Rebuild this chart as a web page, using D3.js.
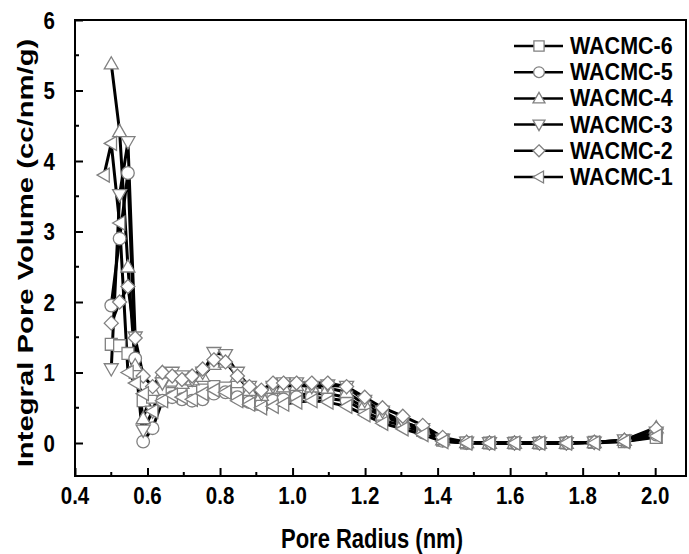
<!DOCTYPE html>
<html>
<head>
<meta charset="utf-8">
<script src="https://cdn.jsdelivr.net/npm/d3@7"></script>
<style>
  html, body { margin: 0; padding: 0; background: #fff; }
  svg { display: block; font-family: "Liberation Sans", Arial, sans-serif; }
</style>
</head>
<body>
<svg id="chart" width="689" height="554"></svg>
<script>
// ---- data ----
const poreRadius = [0.480, 0.500, 0.523, 0.546, 0.566, 0.588, 0.614, 0.641, 0.668, 0.695, 0.723, 0.752, 0.783, 0.815, 0.848, 0.881, 0.914, 0.946, 0.975, 1.011, 1.053, 1.097, 1.149, 1.199, 1.248, 1.304, 1.359, 1.414, 1.480, 1.543, 1.612, 1.681, 1.755, 1.832, 1.915, 2.003];

const wacmc6 = [null, 1.40, 1.38, 1.27, 1.00, 0.60, 0.65, 0.75, 0.70, 0.70, 0.72, 0.75, 0.80, 0.78, 0.70, 0.60, 0.55, 0.62, 0.65, 0.68, 0.70, 0.70, 0.65, 0.50, 0.38, 0.28, 0.18, 0.04, 0.00, 0.00, 0.00, 0.00, 0.00, 0.01, 0.02, 0.08];
const wacmc5 = [null, 1.95, 2.90, 3.83, 1.20, 0.02, 0.21, 0.60, 0.65, 0.62, 0.60, 0.62, 0.70, 0.72, 0.65, 0.58, 0.55, 0.60, 0.62, 0.65, 0.65, 0.63, 0.60, 0.45, 0.32, 0.25, 0.15, 0.03, 0.00, 0.00, 0.00, 0.00, 0.00, 0.01, 0.03, 0.12];
const wacmc4 = [null, 5.38, 4.42, 2.50, 1.10, 0.35, 0.75, 1.00, 0.88, 0.85, 0.90, 0.95, 1.12, 1.15, 0.95, 0.75, 0.68, 0.78, 0.80, 0.82, 0.80, 0.78, 0.72, 0.55, 0.40, 0.30, 0.20, 0.05, 0.01, 0.00, 0.00, 0.00, 0.00, 0.01, 0.04, 0.22];
const wacmc3 = [null, 1.05, 3.52, 4.27, 1.50, 0.18, 0.45, 0.85, 1.00, 0.95, 0.90, 1.00, 1.28, 1.25, 1.00, 0.80, 0.70, 0.80, 0.85, 0.85, 0.80, 0.82, 0.80, 0.60, 0.45, 0.30, 0.20, 0.05, 0.01, 0.00, 0.00, 0.00, 0.00, 0.01, 0.04, 0.15];
const wacmc2 = [null, 1.70, 2.00, 2.22, 1.49, 0.95, 0.80, 1.00, 0.95, 0.90, 0.95, 1.05, 1.18, 1.15, 0.95, 0.80, 0.75, 0.85, 0.85, 0.85, 0.85, 0.85, 0.80, 0.65, 0.50, 0.38, 0.25, 0.08, 0.01, 0.00, 0.00, 0.00, 0.00, 0.01, 0.04, 0.20];
const wacmc1 = [3.80, 4.25, 3.12, 1.00, 0.85, 0.70, 0.45, 0.60, 0.68, 0.65, 0.62, 0.70, 0.75, 0.72, 0.60, 0.55, 0.50, 0.52, 0.55, 0.58, 0.60, 0.58, 0.52, 0.40, 0.28, 0.20, 0.12, 0.02, 0.00, 0.00, 0.00, 0.00, 0.00, 0.00, 0.02, 0.10];

const seriesNames = ["WACMC-6", "WACMC-5", "WACMC-4", "WACMC-3", "WACMC-2", "WACMC-1"];
const seriesValues = [wacmc6, wacmc5, wacmc4, wacmc3, wacmc2, wacmc1];
const seriesMarkers = ["square", "circle", "up", "down", "diamond", "left"];

const xTicks = [0.4, 0.6, 0.8, 1.0, 1.2, 1.4, 1.6, 1.8, 2.0];
const yTicks = [0, 1, 2, 3, 4, 5, 6];
const xTitle = "Pore Radius (nm)";
const yTitle = "Integral Pore Volume (cc/nm/g)";

// ---- layout ----
const svg = d3.select("#chart");
const L = 75, R = 686, T = 20, B = 476;
const x = d3.scaleLinear().domain([0.4, 2.085]).range([L, R]);
const y = d3.scaleLinear().domain([-0.468, 6]).range([B, T]);
const FONT = "'Liberation Sans', Arial, sans-serif";

// frame
svg.append("rect").attr("x", L).attr("y", T).attr("width", R - L).attr("height", B - T)
  .attr("fill", "none").attr("stroke", "#000").attr("stroke-width", 2);

// x axis (inward ticks)
const xMinor = d3.range(0.5, 2.05, 0.2);
const gx = svg.append("g").attr("transform", `translate(0,${B})`);
gx.call(d3.axisBottom(x).tickValues(xTicks).tickFormat("").tickSizeInner(-8).tickSizeOuter(0));
gx.select(".domain").remove();
gx.selectAll(".tick line").attr("stroke-width", 2);
svg.append("g").selectAll("line").data(xMinor).join("line")
  .attr("x1", d => x(d)).attr("x2", d => x(d)).attr("y1", B).attr("y2", B - 4)
  .attr("stroke", "#000").attr("stroke-width", 2);
svg.append("g").selectAll("text").data(xTicks).join("text")
  .attr("transform", d => `translate(${x(d)},${B + 28}) scale(1,1.2)`)
  .attr("text-anchor", "middle").style("font-size", "20.5px").style("font-weight", "bold")
  .style("font-family", FONT).text(d3.format(".1f"));

// y axis (inward ticks)
const yMinor = d3.range(-0.5, 6, 1).filter(v => v > -0.468);
const gy = svg.append("g").attr("transform", `translate(${L},0)`);
gy.call(d3.axisLeft(y).tickValues(yTicks).tickFormat("").tickSizeInner(-8).tickSizeOuter(0));
gy.select(".domain").remove();
gy.selectAll(".tick line").attr("stroke-width", 2);
svg.append("g").selectAll("line").data(yMinor).join("line")
  .attr("x1", L).attr("x2", L + 4).attr("y1", d => y(d)).attr("y2", d => y(d))
  .attr("stroke", "#000").attr("stroke-width", 2);
svg.append("g").selectAll("text").data(yTicks).join("text")
  .attr("transform", d => `translate(${L - 20},${y(d) + 8.5}) scale(1,1.2)`)
  .attr("text-anchor", "end").style("font-size", "20.5px").style("font-weight", "bold")
  .style("font-family", FONT).text(d3.format("d"));

// titles
svg.append("text").attr("transform", `translate(372,548) scale(1,1.22)`).attr("text-anchor", "middle")
  .style("font-size", "22px").style("font-weight", "bold").text(xTitle);
svg.append("text").attr("transform", `translate(33,253) rotate(-90) scale(1.33,1)`).attr("text-anchor", "middle")
  .style("font-size", "22px").style("font-weight", "bold").text(yTitle);

// markers
function markerPath(type, s) {
  const h = s / 2;
  switch (type) {
    case "square": return `M${-h * 0.85},${-h * 0.85}H${h * 0.85}V${h * 0.85}H${-h * 0.85}Z`;
    case "circle": return d3.symbol(d3.symbolCircle, Math.PI * (h * 0.9) * (h * 0.9))();
    case "up": return `M0,${-h}L${h},${h * 0.75}L${-h},${h * 0.75}Z`;
    case "down": return `M0,${h}L${h},${-h * 0.75}L${-h},${-h * 0.75}Z`;
    case "diamond": return `M0,${-h}L${h},0L0,${h}L${-h},0Z`;
    case "left": return `M${-h},0L${h * 0.75},${-h}L${h * 0.75},${h}Z`;
  }
}

const line = d3.line().defined(d => d[1] != null).x(d => x(d[0])).y(d => y(d[1]));
const plot = svg.append("g");
seriesValues.forEach((vals, i) => {
  const pts = poreRadius.map((r, j) => [r, vals[j]]);
  plot.append("path").datum(pts).attr("d", line)
    .attr("fill", "none").attr("stroke", "#000").attr("stroke-width", 3).attr("stroke-linejoin", "round");
});
seriesValues.forEach((vals, i) => {
  const pts = poreRadius.map((r, j) => [r, vals[j]]).filter(d => d[1] != null);
  plot.append("g").selectAll("path").data(pts).join("path")
    .attr("d", markerPath(seriesMarkers[i], 14))
    .attr("transform", d => `translate(${x(d[0])},${y(d[1])})`)
    .attr("fill", "#fff").attr("stroke", "#808080").attr("stroke-width", 1.3);
});

// legend
const lg = svg.append("g");
seriesNames.forEach((name, i) => {
  const yy = 46 + i * 26.2;
  lg.append("line").attr("x1", 514).attr("x2", 563).attr("y1", yy).attr("y2", yy)
    .attr("stroke", "#000").attr("stroke-width", 2.5);
  lg.append("path").attr("d", markerPath(seriesMarkers[i], 12)).attr("transform", `translate(539,${yy})`)
    .attr("fill", "#fff").attr("stroke", "#808080").attr("stroke-width", 1.3);
  lg.append("text").attr("transform", `translate(570,${yy + 8}) scale(1,1.1)`)
    .style("font-size", "21.5px").style("font-weight", "bold").text(name);
});
</script>
</body>
</html>
